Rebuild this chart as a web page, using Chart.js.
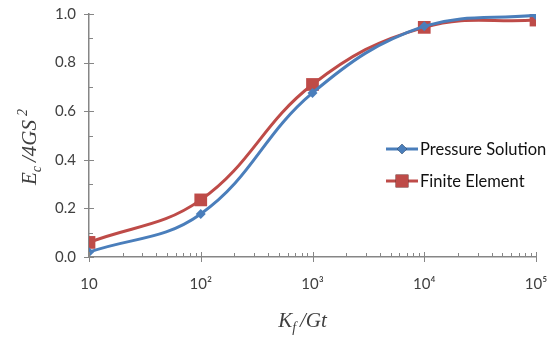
<!DOCTYPE html>
<html>
<head>
<meta charset="utf-8">
<script src="https://cdn.jsdelivr.net/npm/chart.js@4/dist/chart.umd.min.js"></script>
<style>
  html, body { margin: 0; padding: 0; background: #fff; }
  #wrap { width: 558px; height: 341px; }
</style>
</head>
<body>
<div id="wrap"><canvas id="c" width="558" height="341"></canvas></div>
<script>
// ---- data ----
const kfGt = [10, 100, 1000, 10000, 100000];
const pressureSolution = [0.02, 0.177, 0.675, 0.95, 0.995];
const finiteElement = [0.06, 0.235, 0.71, 0.945, 0.975];
const seriesNames = ['Pressure Solution', 'Finite Element'];
const xTickLabels = {10: '10', 100: '10²', 1000: '10³', 10000: '10⁴', 100000: '10⁵'};

const BLUE = '#4A7EBB';
const RED = '#BE4B48';
const AXIS = '#868686';
const TEXT = '#404040';

function pts(ys){ return kfGt.map((x, i) => ({x: x, y: ys[i]})); }

// tick marks drawn like Excel: majors cross the axis, minors sit inside
const axisTicks = {
  id: 'axisTicks',
  afterDraw(chart){
    const ctx = chart.ctx, x = chart.scales.x, y = chart.scales.y;
    const area = chart.chartArea;
    ctx.save();
    ctx.strokeStyle = AXIS;
    ctx.lineWidth = 1;
    ctx.beginPath();
    for (let k = 0; k <= 10; k++) {
      const p = Math.round(y.getPixelForValue(k / 10)) + 0.5;
      if (k % 2 === 0) { ctx.moveTo(area.left - 5, p); ctx.lineTo(area.left + 5, p); }
      else { ctx.moveTo(area.left, p); ctx.lineTo(area.left + 4, p); }
    }
    for (let dec = x.min; dec <= x.max; dec *= 10) {
      for (let m = 1; m <= 9; m++) {
        const v = dec * m;
        if (v > x.max) break;
        const p = Math.round(x.getPixelForValue(v)) + 0.5;
        if (m === 1) { ctx.moveTo(p, area.bottom - 5); ctx.lineTo(p, area.bottom + 5); }
        else { ctx.moveTo(p, area.bottom); ctx.lineTo(p, area.bottom - 4); }
      }
    }
    ctx.stroke();
    ctx.restore();
  }
};

// axis titles with sub/superscripts, and the legend inside the plot
const titlesAndLegend = {
  id: 'titlesAndLegend',
  afterDraw(chart){
    const ctx = chart.ctx;
    ctx.save();
    ctx.fillStyle = TEXT;
    ctx.textBaseline = 'alphabetic';
    const big = 'italic 21px "Liberation Serif", "DejaVu Serif", serif';
    const small = 'italic 14px "Liberation Serif", "DejaVu Serif", serif';
    function run(parts, x0, y0){
      let x = x0;
      parts.forEach(p => {
        ctx.font = p[1];
        ctx.fillText(p[0], x, y0 + p[2]);
        x += ctx.measureText(p[0]).width + (p[3] || 0);
      });
    }
    function width(parts){
      let w = 0;
      parts.forEach(p => { ctx.font = p[1]; w += ctx.measureText(p[0]).width + (p[3] || 0); });
      return w;
    }
    // x title: K_f /Gt
    const xt = [['K', big, 0], ['f', small, 5, 4], ['/Gt', big, 0]];
    const cx = (chart.chartArea.left + chart.chartArea.right) / 2 - 10;
    run(xt, cx - width(xt) / 2, 327);
    // y title: E_c /4GS^2
    const yt = [['E', big, 0], ['c', small, 5, 4], ['/4GS', big, 0, 4], ['2', small, -9]];
    ctx.translate(36, 147);
    ctx.rotate(-Math.PI / 2);
    run(yt, -width(yt) / 2, 0);
    ctx.restore();

    // legend
    ctx.save();
    const items = chart.data.datasets;
    const lx = 386, ly = [149, 181];
    items.forEach((ds, i) => {
      const yy = ly[i];
      ctx.strokeStyle = ds.borderColor;
      ctx.lineWidth = 3;
      ctx.beginPath();
      ctx.moveTo(lx, yy); ctx.lineTo(lx + 32, yy);
      ctx.stroke();
      Chart.helpers.drawPoint(ctx, {
        pointStyle: ds.pointStyle, radius: ds.pointRadius, rotation: 0, borderWidth: 0
      }, lx + 16, yy);
      ctx.fillStyle = ds.backgroundColor;
      ctx.fill();
      ctx.fillStyle = '#111';
      ctx.font = '16.5px Lato, "Open Sans", sans-serif';
      ctx.textBaseline = 'middle';
      ctx.fillText(ds.label, lx + 34, yy + 1);
    });
    ctx.restore();
  }
};

new Chart(document.getElementById('c'), {
  type: 'line',
  data: {
    datasets: [
      {
        label: seriesNames[0], data: pts(pressureSolution),
        borderColor: BLUE, backgroundColor: BLUE, borderWidth: 3,
        pointStyle: 'rectRot', pointRadius: 5, pointBorderWidth: 0,
        tension: 0.4, fill: false
      },
      {
        label: seriesNames[1], data: pts(finiteElement),
        borderColor: RED, backgroundColor: RED, borderWidth: 3,
        pointStyle: 'rect', pointRadius: 9, pointBorderWidth: 0,
        tension: 0.4, fill: false
      }
    ]
  },
  options: {
    responsive: false,
    animation: false,
    layout: { padding: { left: 0, top: 14, right: 22, bottom: 0 } },
    plugins: { legend: { display: false }, tooltip: { enabled: false } },
    scales: {
      x: {
        type: 'logarithmic', min: 10, max: 100000,
        afterFit(s){ s.height = 84; s.paddingLeft = 0; s.paddingRight = 0; },
        afterBuildTicks(s){ s.ticks = kfGt.map(v => ({value: v})); },
        grid: { drawOnChartArea: false, drawTicks: false },
        border: { color: AXIS, width: 1.5 },
        ticks: {
          autoSkip: false, maxRotation: 0, padding: 18, color: TEXT,
          font: { size: 15, family: 'Lato, "Open Sans", sans-serif' },
          callback: v => xTickLabels[v] || ''
        }
      },
      y: {
        min: 0, max: 1,
        afterFit(s){ s.width = 89; s.paddingTop = 0; s.paddingBottom = 0; },
        grid: { drawOnChartArea: false, drawTicks: false },
        border: { color: AXIS, width: 1.5 },
        ticks: {
          stepSize: 0.2, padding: 13, color: TEXT,
          font: { size: 15, family: 'Lato, "Open Sans", sans-serif' },
          callback: v => v.toFixed(1)
        }
      }
    }
  },
  plugins: [axisTicks, titlesAndLegend]
});
</script>
</body>
</html>
